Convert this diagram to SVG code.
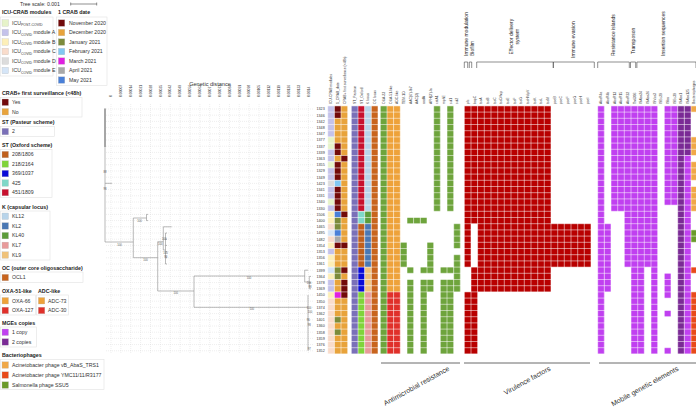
<svg xmlns="http://www.w3.org/2000/svg" width="696" height="408" viewBox="0 0 696 408">
<style>
text{font-family:"Liberation Sans",Arial,sans-serif;fill:#333}
.lg{font-size:5.2px}
.lh{font-size:5.3px;font-weight:bold;fill:#222}
.rl{font-size:3.7px}
.ch{font-size:3.4px}
.tk{font-size:3.4px}
.bs{font-size:2.7px;fill:#555;text-anchor:middle}
.grp{font-size:5px;fill:#222}
.big{font-size:7px;fill:#333}
.box{fill:none;stroke:#e2e2e2;stroke-width:0.6}
.sw{stroke:#bbb;stroke-width:0.3}
.tree{fill:none;stroke:#8c8c8c;stroke-width:0.6}
.grid{fill:none;stroke:#d4d4d4;stroke-width:0.4;stroke-dasharray:1 1}
.cellgrid{fill:none;stroke:#fff;stroke-width:0.7;stroke-opacity:0.75}
.br{fill:none;stroke:#444;stroke-width:0.6}
</style>

<g id="tree-scale">
<text x="20" y="6" style="font-size:5.2px">Tree scale: 0.001</text>
<path class="br" d="M70.7 4H96.7M70.7 2.5V5.5M96.7 2.5V5.5"/>
</g>

<g id="legend">
<g id="legend-icu">
<text class="lh" x="2" y="14">ICU-CRAB modules</text>
<rect class="box" x="0.5" y="17" width="52.5" height="59"/>
<rect class="sw" x="2" y="19.8" width="6.5" height="6.5" fill="#e6f3c9"/>
<text class="lg" x="12" y="24.8">ICU<tspan dy="1.2" style="font-size:3.5px">POST-COVID</tspan></text>
<rect class="sw" x="2" y="29.3" width="6.5" height="6.5" fill="#c4c2ea"/>
<text class="lg" x="12" y="34.3">ICU<tspan dy="1.2" style="font-size:3.5px">COVID</tspan><tspan dy="-1.2"> module A</tspan></text>
<rect class="sw" x="2" y="38.8" width="6.5" height="6.5" fill="#fdefb8"/>
<text class="lg" x="12" y="43.8">ICU<tspan dy="1.2" style="font-size:3.5px">COVID</tspan><tspan dy="-1.2"> module B</tspan></text>
<rect class="sw" x="2" y="48.3" width="6.5" height="6.5" fill="#f9dccb"/>
<text class="lg" x="12" y="53.3">ICU<tspan dy="1.2" style="font-size:3.5px">COVID</tspan><tspan dy="-1.2"> module C</tspan></text>
<rect class="sw" x="2" y="57.8" width="6.5" height="6.5" fill="#dcdcdc"/>
<text class="lg" x="12" y="62.8">ICU<tspan dy="1.2" style="font-size:3.5px">COVID</tspan><tspan dy="-1.2"> module D</tspan></text>
<rect class="sw" x="2" y="67.3" width="6.5" height="6.5" fill="#d5e5f7"/>
<text class="lg" x="12" y="72.3">ICU<tspan dy="1.2" style="font-size:3.5px">COVID</tspan><tspan dy="-1.2"> module E</tspan></text>
</g>
<g id="legend-date">
<text class="lh" x="58" y="14">1 CRAB date</text>
<rect class="box" x="56.5" y="17" width="50.5" height="68.5"/>
<rect class="sw" x="58.3" y="19.8" width="6.5" height="6.5" fill="#720a0a"/>
<text class="lg" x="69" y="24.8">November 2020</text>
<rect class="sw" x="58.3" y="29.3" width="6.5" height="6.5" fill="#e8a33b"/>
<text class="lg" x="69" y="34.3">December 2020</text>
<rect class="sw" x="58.3" y="38.8" width="6.5" height="6.5" fill="#7c8b3b"/>
<text class="lg" x="69" y="43.8">January 2021</text>
<rect class="sw" x="58.3" y="48.3" width="6.5" height="6.5" fill="#82c8f2"/>
<text class="lg" x="69" y="53.3">February 2021</text>
<rect class="sw" x="58.3" y="57.8" width="6.5" height="6.5" fill="#e020e0"/>
<text class="lg" x="69" y="62.8">March 2021</text>
<rect class="sw" x="58.3" y="67.3" width="6.5" height="6.5" fill="#a9a9a9"/>
<text class="lg" x="69" y="72.3">April 2021</text>
<rect class="sw" x="58.3" y="76.8" width="6.5" height="6.5" fill="#4a80d8"/>
<text class="lg" x="69" y="81.8">May 2021</text>
</g>
<g id="legend-crab">
<text class="lh" x="2" y="94.5">CRAB+ first surveillance (&lt;48h)</text>
<rect class="box" x="0.5" y="97.5" width="81.5" height="19.5"/>
<rect class="sw" x="2" y="99" width="6.5" height="6.5" fill="#720a0a"/>
<text class="lg" x="12" y="104">Yes</text>
<rect class="sw" x="2" y="108.5" width="6.5" height="6.5" fill="#e8a33b"/>
<text class="lg" x="12" y="113.5">No</text>
</g>
<g id="legend-stp">
<text class="lh" x="2" y="124">ST (Pasteur scheme)</text>
<rect class="box" x="0.5" y="126.5" width="54" height="10"/>
<rect class="sw" x="2" y="128.3" width="6.5" height="6.5" fill="#7a70b8"/>
<text class="lg" x="12" y="133.3">2</text>
</g>
<g id="legend-sto">
<text class="lh" x="2" y="147">ST (Oxford scheme)</text>
<rect class="box" x="0.5" y="149.5" width="51.5" height="48"/>
<rect class="sw" x="2" y="151.3" width="6.5" height="6.5" fill="#c0601c"/>
<text class="lg" x="12" y="156.3">208/1806</text>
<rect class="sw" x="2" y="160.8" width="6.5" height="6.5" fill="#80d43a"/>
<text class="lg" x="12" y="165.8">218/2164</text>
<rect class="sw" x="2" y="170.3" width="6.5" height="6.5" fill="#0a0ad8"/>
<text class="lg" x="12" y="175.3">369/1037</text>
<rect class="sw" x="2" y="179.8" width="6.5" height="6.5" fill="#7fd8c8"/>
<text class="lg" x="12" y="184.8">425</text>
<rect class="sw" x="2" y="189.3" width="6.5" height="6.5" fill="#c8102e"/>
<text class="lg" x="12" y="194.3">451/1809</text>
</g>
<g id="legend-k">
<text class="lh" x="2" y="208.5">K (capsular locus)</text>
<rect class="box" x="0.5" y="211" width="49.5" height="49"/>
<rect class="sw" x="2" y="213" width="6.5" height="6.5" fill="#b8d4ea"/>
<text class="lg" x="12" y="218">KL12</text>
<rect class="sw" x="2" y="222.7" width="6.5" height="6.5" fill="#4a78b4"/>
<text class="lg" x="12" y="227.7">KL2</text>
<rect class="sw" x="2" y="232.4" width="6.5" height="6.5" fill="#5c9c3a"/>
<text class="lg" x="12" y="237.4">KL40</text>
<rect class="sw" x="2" y="242.1" width="6.5" height="6.5" fill="#e89a9a"/>
<text class="lg" x="12" y="247.1">KL7</text>
<rect class="sw" x="2" y="251.8" width="6.5" height="6.5" fill="#f0c27a"/>
<text class="lg" x="12" y="256.8">KL9</text>
</g>
<g id="legend-oc">
<text class="lh" x="2" y="269.5">OC (outer core oligosaccharide)</text>
<rect class="box" x="0.5" y="272" width="82.5" height="10.5"/>
<rect class="sw" x="2" y="274.3" width="6.5" height="6.5" fill="#c8641e"/>
<text class="lg" x="12" y="279.3">OCL1</text>
</g>
<g id="legend-oxa">
<text class="lh" x="2" y="292.5">OXA-51-like</text>
<rect class="box" x="0.5" y="295" width="35" height="20"/>
<rect class="sw" x="2" y="297.5" width="6.5" height="6.5" fill="#eea23a"/>
<text class="lg" x="12" y="302.5">OXA-66</text>
<rect class="sw" x="2" y="307.2" width="6.5" height="6.5" fill="#e0302a"/>
<text class="lg" x="12" y="312.2">OXA-127</text>
</g>
<g id="legend-adc">
<text class="lh" x="38" y="292.5">ADC-like</text>
<rect class="box" x="36.5" y="295" width="32" height="20"/>
<rect class="sw" x="38.3" y="297.5" width="6.5" height="6.5" fill="#eea23a"/>
<text class="lg" x="48" y="302.5">ADC-73</text>
<rect class="sw" x="38.3" y="307.2" width="6.5" height="6.5" fill="#e0302a"/>
<text class="lg" x="48" y="312.2">ADC-30</text>
</g>
<g id="legend-mge">
<text class="lh" x="2" y="324.5">MGEs copies</text>
<rect class="box" x="0.5" y="327" width="36" height="20"/>
<rect class="sw" x="2" y="329" width="6.5" height="6.5" fill="#c040f0"/>
<text class="lg" x="12" y="334">1 copy</text>
<rect class="sw" x="2" y="338.7" width="6.5" height="6.5" fill="#7a2a95"/>
<text class="lg" x="12" y="343.7">2 copies</text>
</g>
<g id="legend-phage">
<text class="lh" x="2" y="357">Bacteriophages</text>
<rect class="box" x="0.5" y="359.5" width="103.5" height="30"/>
<rect class="sw" x="2" y="361.8" width="6.5" height="6.5" fill="#f0a848"/>
<text class="lg" x="12" y="366.8">Acinetobacter phage vB_AbaS_TRS1</text>
<rect class="sw" x="2" y="371.8" width="6.5" height="6.5" fill="#e84a1a"/>
<text class="lg" x="12" y="376.8">Acinetobacter phage YMC11/11/R3177</text>
<rect class="sw" x="2" y="381.8" width="6.5" height="6.5" fill="#6a9a2a"/>
<text class="lg" x="12" y="386.8">Salmonella phage SSU5</text>
</g>
</g>

<g id="axis">
<text x="210" y="85.5" style="font-size:5.6px;text-anchor:middle">Genetic distance</text>
<path class="grid" d="M111 104V353M120.87 104V353M130.74 104V353M140.61 104V353M150.48 104V353M160.35 104V353M170.22 104V353M180.09 104V353M189.96 104V353M199.83 104V353M209.7 104V353M219.57 104V353M229.44 104V353M239.31 104V353M249.18 104V353M259.05 104V353M268.92 104V353M278.79 104V353M288.66 104V353M298.53 104V353M308.4 104V353"/>
<g class="tk">
<text transform="translate(112.2 97) rotate(-90)">0</text>
<text transform="translate(122.1 97) rotate(-90)">0.00007</text>
<text transform="translate(132 97) rotate(-90)">0.00014</text>
<text transform="translate(141.8 97) rotate(-90)">0.00021</text>
<text transform="translate(151.7 97) rotate(-90)">0.00028</text>
<text transform="translate(161.6 97) rotate(-90)">0.00035</text>
<text transform="translate(171.4 97) rotate(-90)">0.00042</text>
<text transform="translate(181.3 97) rotate(-90)">0.00049</text>
<text transform="translate(191.2 97) rotate(-90)">0.00056</text>
<text transform="translate(201 97) rotate(-90)">0.00063</text>
<text transform="translate(210.9 97) rotate(-90)">0.0007</text>
<text transform="translate(220.8 97) rotate(-90)">0.00077</text>
<text transform="translate(230.6 97) rotate(-90)">0.00084</text>
<text transform="translate(240.5 97) rotate(-90)">0.00091</text>
<text transform="translate(250.4 97) rotate(-90)">0.00098</text>
<text transform="translate(260.3 97) rotate(-90)">0.00105</text>
<text transform="translate(270.1 97) rotate(-90)">0.00112</text>
<text transform="translate(280 97) rotate(-90)">0.00119</text>
<text transform="translate(289.9 97) rotate(-90)">0.00126</text>
<text transform="translate(299.7 97) rotate(-90)">0.00133</text>
<text transform="translate(309.6 97) rotate(-90)">0.0014</text>
</g>
</g>

<g id="connectors">
<path class="grid" d="M106 109H314M106 115.2H314M106 121.4H314M106 127.6H314M106 133.8H314M106 140H314M106 146.2H314M106 152.4H314M106 158.6H314M106 164.8H314M106 171H314M106 177.2H314M106 183.4H314M106 189.6H314M106 195.8H314M106 202H314M106 208.2H314M106 214.4H314M106 220.6H314M106 226.8H314M106 233H314M106 239.2H314M106 245.4H314M106 251.6H314M106 257.8H314M106 264H314M106 270.2H314M106 276.4H314M106 282.6H314M106 288.8H314M106 295H314M106 301.2H314M106 307.4H314M106 313.6H314M106 319.8H314M106 326H314M106 332.2H314M106 338.4H314M106 344.6H314M106 350.8H314"/>
<path class="tree" d="M105 108.5V242M105 242H133.3M133.3 218V257.7M133.3 218H146.5M146.5 214.4V220.6M146.5 214.4H148M146.5 220.6H148M133.3 257.7H157.7M157.7 241.7V291M157.7 241.7H163.3M163.3 226.8V250M163.3 226.8H171.7M163.3 250H165.5M165.5 233V264M165.5 233H167M165.5 239.2H167M165.5 245.4H167M165.5 251.6H167M165.5 257.8H167M165.5 264H167M157.7 291H194M194 276V307.3M194 276H304.7M304.7 270.2V282M304.7 270.2H308M304.7 282H309.3M309.3 276.4V288.8M309.3 276.4H311M309.3 282.6H311M309.3 288.8H311M194 307.3H308M308 295V350.8M105 183.3H112"/>
<path d="M105 108.5V147" stroke="#555" stroke-width="0.8"/>
</g>

<g id="bootstrap">
<text class="bs" x="105" y="172.5">88</text>
<text class="bs" x="105" y="189.5">98</text>
<text class="bs" x="119.5" y="245.5">100</text>
<text class="bs" x="139.5" y="221.5">100</text>
<text class="bs" x="145.5" y="260.5">100</text>
<text class="bs" x="164.3" y="239.5">100</text>
<text class="bs" x="160.3" y="244.5">100</text>
<text class="bs" x="165.5" y="254">100</text>
<text class="bs" x="165.7" y="258">98</text>
<text class="bs" x="175.7" y="294">100</text>
<text class="bs" x="249" y="278.5">100</text>
<text class="bs" x="309" y="284">100</text>
<text class="bs" x="310" y="288">98</text>
<text class="bs" x="251.7" y="310">100</text>
<text class="bs" x="309" y="309">100</text>
<text class="bs" x="310" y="313">100</text>
<text class="bs" x="308.3" y="320.5">96</text>
<text class="bs" x="309.3" y="325.5">98</text>
<text class="bs" x="309.3" y="350">97</text>
</g>

<g id="row-labels" class="rl">
<text x="316.5" y="110.3">1323</text><text x="316.5" y="116.5">1346</text><text x="316.5" y="122.7">1342</text><text x="316.5" y="128.9">1348</text><text x="316.5" y="135.1">1347</text><text x="316.5" y="141.3">1377</text><text x="316.5" y="147.5">1337</text><text x="316.5" y="153.7">1339</text><text x="316.5" y="159.9">1363</text><text x="316.5" y="166.1">1355</text><text x="316.5" y="172.3">1329</text><text x="316.5" y="178.5">1349</text><text x="316.5" y="184.7">1423</text><text x="316.5" y="190.9">1341</text><text x="316.5" y="197.1">1331</text><text x="316.5" y="203.3">1340</text><text x="316.5" y="209.5">1330</text><text x="316.5" y="215.7">1506</text><text x="316.5" y="221.9">1400</text><text x="316.5" y="228.1">1465</text><text x="316.5" y="234.3">1495</text><text x="316.5" y="240.5">1482</text><text x="316.5" y="246.7">1354</text><text x="316.5" y="252.9">1353</text><text x="316.5" y="259.1">1356</text><text x="316.5" y="265.3">1361</text><text x="316.5" y="271.5">1399</text><text x="316.5" y="277.7">1364</text><text x="316.5" y="283.9">1378</text><text x="316.5" y="290.1">1369</text><text x="316.5" y="296.3">1450</text><text x="316.5" y="302.5">1350</text><text x="316.5" y="308.7">1374</text><text x="316.5" y="314.9">1362</text><text x="316.5" y="321.1">1401</text><text x="316.5" y="327.3">1360</text><text x="316.5" y="333.5">1358</text><text x="316.5" y="339.7">1359</text><text x="316.5" y="345.9">1376</text><text x="316.5" y="352.1">1352</text>
</g>

<g id="col-headers" class="ch">
<text transform="translate(332.3 104) rotate(-90)">ICU-CRAB modules</text>
<text transform="translate(339 104) rotate(-90)">1_CRAB_date</text>
<text transform="translate(345.6 104) rotate(-90)">CRAB+ first surveillance (&lt;48h)</text>
<text transform="translate(355.9 104) rotate(-90)">ST_Pasteur</text>
<text transform="translate(362.6 104) rotate(-90)">ST_Oxford</text>
<text transform="translate(369.3 104) rotate(-90)">K locus</text>
<text transform="translate(375.9 104) rotate(-90)">OC locus</text>
<text transform="translate(384.9 104) rotate(-90)">OXA-23</text>
<text transform="translate(391.6 104) rotate(-90)">OXA-51-like</text>
<text transform="translate(398.2 104) rotate(-90)">ADC-like</text>
<text transform="translate(404.9 104) rotate(-90)">TEM-1D</text>
<text transform="translate(411.6 104) rotate(-90)">AAC(6')-Ib7</text>
<text transform="translate(418.2 104) rotate(-90)">AAC(3)</text>
<text transform="translate(424.9 104) rotate(-90)">aadA</text>
<text transform="translate(431.6 104) rotate(-90)">APH(3')-Ia</text>
<text transform="translate(438.3 104) rotate(-90)">catA1</text>
<text transform="translate(444.9 104) rotate(-90)">mphE</text>
<text transform="translate(451.6 104) rotate(-90)">sul1</text>
<text transform="translate(458.3 104) rotate(-90)">sul2</text>
<text transform="translate(468.9 104) rotate(-90)">plc</text>
<text transform="translate(475.6 104) rotate(-90)">bapC</text>
<text transform="translate(482.2 104) rotate(-90)">tssA</text>
<text transform="translate(488.9 104) rotate(-90)">tssB</text>
<text transform="translate(495.6 104) rotate(-90)">tssC</text>
<text transform="translate(502.3 104) rotate(-90)">tssD/hcp</text>
<text transform="translate(508.9 104) rotate(-90)">tssE</text>
<text transform="translate(515.6 104) rotate(-90)">tssF</text>
<text transform="translate(522.3 104) rotate(-90)">tssG</text>
<text transform="translate(528.9 104) rotate(-90)">tssH/clpV</text>
<text transform="translate(535.6 104) rotate(-90)">tssK</text>
<text transform="translate(542.3 104) rotate(-90)">tssL</text>
<text transform="translate(548.9 104) rotate(-90)">tssM</text>
<text transform="translate(555.6 104) rotate(-90)">pseB</text>
<text transform="translate(562.3 104) rotate(-90)">pseC</text>
<text transform="translate(568.9 104) rotate(-90)">pseF</text>
<text transform="translate(575.6 104) rotate(-90)">pseG</text>
<text transform="translate(582.3 104) rotate(-90)">pseH</text>
<text transform="translate(588.9 104) rotate(-90)">pseI</text>
<text transform="translate(602.3 104) rotate(-90)">AbaR4a</text>
<text transform="translate(608.9 104) rotate(-90)">AbaR4b</text>
<text transform="translate(615.6 104) rotate(-90)">AbaR13</text>
<text transform="translate(622.3 104) rotate(-90)">AbaR15</text>
<text transform="translate(628.9 104) rotate(-90)">AbaR22</text>
<text transform="translate(635.6 104) rotate(-90)">Tn6306</text>
<text transform="translate(642.3 104) rotate(-90)">ISAba24</text>
<text transform="translate(648.9 104) rotate(-90)">ISAba26</text>
<text transform="translate(655.6 104) rotate(-90)">ISVsa3</text>
<text transform="translate(662.3 104) rotate(-90)">ISEc29</text>
<text transform="translate(668.9 104) rotate(-90)">ISba</text>
<text transform="translate(675.6 104) rotate(-90)">ISEc39</text>
<text transform="translate(682.3 104) rotate(-90)">ISAba1</text>
<text transform="translate(688.9 104) rotate(-90)">ISAba125</text>
<text transform="translate(695.2 104) rotate(-90)">Bacteriophages</text>
</g>

<g id="groups-top">
<path class="br" d="M464.3 68V62H467.7V68M469.3 68V62H471.7V68M476.7 68V62H553.3V68M553.3 68V62H594.3V68M597.7 68V62H629.3V68M630.5 68V62H635.7V68M636.9 68V62H696V68"/>
<text class="grp" transform="translate(467.5 56) rotate(-90)">Immune modulation</text>
<text class="grp" transform="translate(473.8 56) rotate(-90)">Biofilm</text>
<text class="grp" transform="translate(513.3 36.7) rotate(-90)" style="text-anchor:middle">Effector delivery</text>
<text class="grp" transform="translate(519.3 36.7) rotate(-90)" style="text-anchor:middle">system</text>
<text class="grp" transform="translate(575 58) rotate(-90)">Immune evasion</text>
<text class="grp" transform="translate(615 56) rotate(-90)">Resistance islands</text>
<text class="grp" transform="translate(635 54) rotate(-90)">Transposon</text>
<text class="grp" transform="translate(665 56) rotate(-90)">Insertion sequences</text>
</g>

<g id="heatmap">
<g id="col-icu">
<rect x="327.7" y="105.9" width="6.7" height="31" fill="#c4c2ea"/>
<rect x="327.7" y="136.9" width="6.7" height="12.4" fill="#e6f3c9"/>
<rect x="327.7" y="149.3" width="6.7" height="12.4" fill="#c4c2ea"/>
<rect x="327.7" y="161.7" width="6.7" height="6.2" fill="#e6f3c9"/>
<rect x="327.7" y="167.9" width="6.7" height="12.4" fill="#c4c2ea"/>
<rect x="327.7" y="180.3" width="6.7" height="6.2" fill="#dcdcdc"/>
<rect x="327.7" y="186.5" width="6.7" height="12.4" fill="#c4c2ea"/>
<rect x="327.7" y="198.9" width="6.7" height="6.2" fill="#e6f3c9"/>
<rect x="327.7" y="205.1" width="6.7" height="6.2" fill="#c4c2ea"/>
<rect x="327.7" y="211.3" width="6.7" height="12.4" fill="#fdefb8"/>
<rect x="327.7" y="223.7" width="6.7" height="6.2" fill="#f9dccb"/>
<rect x="327.7" y="229.9" width="6.7" height="6.2" fill="#d5e5f7"/>
<rect x="327.7" y="236.1" width="6.7" height="6.2" fill="#f9dccb"/>
<rect x="327.7" y="242.3" width="6.7" height="6.2" fill="#fdefb8"/>
<rect x="327.7" y="248.5" width="6.7" height="6.2" fill="#c4c2ea"/>
<rect x="327.7" y="254.7" width="6.7" height="12.4" fill="#fdefb8"/>
<rect x="327.7" y="267.1" width="6.7" height="6.2" fill="#d5e5f7"/>
<rect x="327.7" y="273.3" width="6.7" height="6.2" fill="#fdefb8"/>
<rect x="327.7" y="279.5" width="6.7" height="12.4" fill="#c4c2ea"/>
<rect x="327.7" y="291.9" width="6.7" height="6.2" fill="#fdefb8"/>
<rect x="327.7" y="298.1" width="6.7" height="55.8" fill="#f9dccb"/>
</g>
<g id="col-date">
<rect x="334.4" y="105.9" width="6.7" height="12.4" fill="#720a0a"/>
<rect x="334.4" y="118.3" width="6.7" height="24.8" fill="#e8a33b"/>
<rect x="334.4" y="143.1" width="6.7" height="12.4" fill="#720a0a"/>
<rect x="334.4" y="155.5" width="6.7" height="6.2" fill="#e8a33b"/>
<rect x="334.4" y="161.7" width="6.7" height="18.6" fill="#720a0a"/>
<rect x="334.4" y="180.3" width="6.7" height="6.2" fill="#82c8f2"/>
<rect x="334.4" y="186.5" width="6.7" height="24.8" fill="#720a0a"/>
<rect x="334.4" y="211.3" width="6.7" height="6.2" fill="#4a80d8"/>
<rect x="334.4" y="217.5" width="6.7" height="12.4" fill="#7c8b3b"/>
<rect x="334.4" y="229.9" width="6.7" height="6.2" fill="#4a80d8"/>
<rect x="334.4" y="236.1" width="6.7" height="6.2" fill="#a9a9a9"/>
<rect x="334.4" y="242.3" width="6.7" height="6.2" fill="#720a0a"/>
<rect x="334.4" y="248.5" width="6.7" height="18.6" fill="#e8a33b"/>
<rect x="334.4" y="267.1" width="6.7" height="12.4" fill="#7c8b3b"/>
<rect x="334.4" y="279.5" width="6.7" height="12.4" fill="#e8a33b"/>
<rect x="334.4" y="291.9" width="6.7" height="6.2" fill="#e020e0"/>
<rect x="334.4" y="298.1" width="6.7" height="18.6" fill="#e8a33b"/>
<rect x="334.4" y="316.7" width="6.7" height="6.2" fill="#7c8b3b"/>
<rect x="334.4" y="322.9" width="6.7" height="6.2" fill="#e8a33b"/>
<rect x="334.4" y="329.1" width="6.7" height="6.2" fill="#7c8b3b"/>
<rect x="334.4" y="335.3" width="6.7" height="18.6" fill="#e8a33b"/>
</g>
<g id="col-crab">
<rect x="341" y="105.9" width="6.7" height="248" fill="#e8a33b"/>
<rect x="341" y="155.5" width="6.7" height="6.2" fill="#720a0a"/>
<rect x="341" y="211.3" width="6.7" height="6.2" fill="#720a0a"/>
<rect x="341" y="242.3" width="6.7" height="6.2" fill="#720a0a"/>
<rect x="341" y="267.1" width="6.7" height="6.2" fill="#720a0a"/>
<rect x="341" y="279.5" width="6.7" height="18.6" fill="#720a0a"/>
</g>
<g id="col-st">
<rect x="351.3" y="105.9" width="6.7" height="248" fill="#7a70b8"/>
<rect x="358" y="105.9" width="6.7" height="105.4" fill="#c8102e"/>
<rect x="358" y="211.3" width="6.7" height="12.4" fill="#7fd8c8"/>
<rect x="358" y="223.7" width="6.7" height="43.4" fill="#c0601c"/>
<rect x="358" y="267.1" width="6.7" height="24.8" fill="#0a0ad8"/>
<rect x="358" y="291.9" width="6.7" height="62" fill="#80d43a"/>
<rect x="364.7" y="105.9" width="6.7" height="105.4" fill="#b8d4ea"/>
<rect x="364.7" y="211.3" width="6.7" height="12.4" fill="#5c9c3a"/>
<rect x="364.7" y="223.7" width="6.7" height="43.4" fill="#4a78b4"/>
<rect x="364.7" y="267.1" width="6.7" height="24.8" fill="#f0c27a"/>
<rect x="364.7" y="291.9" width="6.7" height="62" fill="#e89a9a"/>
<rect x="371.3" y="105.9" width="6.7" height="248" fill="#c8641e"/>
</g>
<g id="col-amr" fill="#6ea43c">
<rect x="380.3" y="105.9" width="6.7" height="248"/>
<rect x="387" y="105.9" width="6.7" height="186" fill="#eea23a"/>
<rect x="387" y="291.9" width="6.7" height="62" fill="#e0302a"/>
<rect x="393.6" y="105.9" width="6.7" height="186" fill="#eea23a"/>
<rect x="393.6" y="291.9" width="6.7" height="62" fill="#e0302a"/>
<rect x="400.3" y="242.3" width="6.7" height="24.8"/>
<rect x="407" y="217.5" width="6.7" height="6.2"/>
<rect x="407" y="267.1" width="6.7" height="6.2"/>
<rect x="407" y="279.5" width="6.7" height="74.4"/>
<rect x="413.6" y="217.5" width="6.7" height="6.2"/>
<rect x="420.3" y="217.5" width="6.7" height="6.2"/>
<rect x="420.3" y="267.1" width="6.7" height="6.2"/>
<rect x="420.3" y="279.5" width="6.7" height="74.4"/>
<rect x="427" y="242.3" width="6.7" height="31"/>
<rect x="427" y="279.5" width="6.7" height="12.4"/>
<rect x="433.7" y="105.9" width="6.7" height="105.4"/>
<rect x="440.3" y="267.1" width="6.7" height="6.2"/>
<rect x="440.3" y="279.5" width="6.7" height="74.4"/>
<rect x="447" y="105.9" width="6.7" height="105.4"/>
<rect x="447" y="267.1" width="6.7" height="6.2"/>
<rect x="447" y="279.5" width="6.7" height="74.4"/>
<rect x="453.7" y="223.7" width="6.7" height="24.8"/>
<rect x="453.7" y="254.7" width="6.7" height="37.2"/>
</g>
<g id="col-vir" fill="#b80000">
<rect x="464.3" y="105.9" width="6.7" height="161.2"/>
<rect x="464.3" y="291.9" width="6.7" height="62"/>
<rect x="471" y="105.9" width="6.7" height="117.8"/>
<rect x="471" y="267.1" width="6.7" height="86.8"/>
<rect x="477.6" y="105.9" width="73.4" height="186"/>
<rect x="551" y="223.7" width="40" height="43.4"/>
</g>
<g id="col-mge" fill="#c040f0">
<rect x="597.7" y="105.9" width="6.7" height="248"/>
<rect x="604.3" y="223.7" width="6.7" height="68.2"/>
<rect x="611" y="105.9" width="20" height="105.4"/>
<rect x="624.3" y="105.9" width="26.7" height="161.2"/>
<rect x="631" y="267.1" width="13.3" height="86.8"/>
<rect x="651" y="105.9" width="6.7" height="248"/>
<rect x="664.3" y="105.9" width="13.4" height="99.2"/>
<rect x="664.3" y="273.3" width="6.7" height="24.8"/>
<rect x="664.3" y="310.5" width="6.7" height="6.2"/>
<rect x="664.3" y="347.7" width="6.7" height="6.2"/>
<rect x="677.7" y="105.9" width="6.7" height="248" fill="#7a2a95"/>
<rect x="684.3" y="105.9" width="6.7" height="49.6" fill="#7a2a95"/>
<rect x="684.3" y="155.5" width="6.7" height="198.4"/>
<rect x="691" y="105.9" width="6.7" height="6.2" fill="#f0a848"/>
<rect x="691" y="136.9" width="6.7" height="18.6" fill="#f0a848"/>
<rect x="691" y="161.7" width="6.7" height="18.6" fill="#f0a848"/>
<rect x="691" y="186.5" width="6.7" height="24.8" fill="#f0a848"/>
<rect x="691" y="229.9" width="6.7" height="12.4" fill="#6a9a2a"/>
<rect x="691" y="267.1" width="6.7" height="6.2" fill="#e84a1a"/>
<rect x="691" y="291.9" width="6.7" height="62" fill="#e84a1a"/>
</g>
<path class="cellgrid" d="M327 105.9H697M327 112.1H697M327 118.3H697M327 124.5H697M327 130.7H697M327 136.9H697M327 143.1H697M327 149.3H697M327 155.5H697M327 161.7H697M327 167.9H697M327 174.1H697M327 180.3H697M327 186.5H697M327 192.7H697M327 198.9H697M327 205.1H697M327 211.3H697M327 217.5H697M327 223.7H697M327 229.9H697M327 236.1H697M327 242.3H697M327 248.5H697M327 254.7H697M327 260.9H697M327 267.1H697M327 273.3H697M327 279.5H697M327 285.7H697M327 291.9H697M327 298.1H697M327 304.3H697M327 310.5H697M327 316.7H697M327 322.9H697M327 329.1H697M327 335.3H697M327 341.5H697M327 347.7H697M327 353.9H697M327.7 105.9V353.9M334.4 105.9V353.9M341 105.9V353.9M347.7 105.9V353.9M351.3 105.9V353.9M358 105.9V353.9M364.7 105.9V353.9M371.3 105.9V353.9M378 105.9V353.9M380.3 105.9V353.9M387 105.9V353.9M393.6 105.9V353.9M400.3 105.9V353.9M407 105.9V353.9M413.6 105.9V353.9M420.3 105.9V353.9M427 105.9V353.9M433.7 105.9V353.9M440.3 105.9V353.9M447 105.9V353.9M453.7 105.9V353.9M460.3 105.9V353.9M464.3 105.9V353.9M471 105.9V353.9M477.6 105.9V353.9M484.3 105.9V353.9M491 105.9V353.9M497.7 105.9V353.9M504.3 105.9V353.9M511 105.9V353.9M517.7 105.9V353.9M524.3 105.9V353.9M531 105.9V353.9M537.7 105.9V353.9M544.3 105.9V353.9M551 105.9V353.9M557.7 105.9V353.9M564.3 105.9V353.9M571 105.9V353.9M577.7 105.9V353.9M584.3 105.9V353.9M591 105.9V353.9M597.7 105.9V353.9M604.3 105.9V353.9M611 105.9V353.9M617.7 105.9V353.9M624.3 105.9V353.9M631 105.9V353.9M637.7 105.9V353.9M644.3 105.9V353.9M651 105.9V353.9M657.7 105.9V353.9M664.3 105.9V353.9M671 105.9V353.9M677.7 105.9V353.9M684.3 105.9V353.9M691 105.9V353.9M697.7 105.9V353.9"/>
</g>

<g id="groups-bottom">
<path d="M381 363H460M464 363H590M599 363H696" stroke="#444" stroke-width="0.8" fill="none"/>
<text class="big" transform="translate(450 370) rotate(-29)" style="text-anchor:end">Antimicrobial resistance</text>
<text class="big" transform="translate(551 370) rotate(-29)" style="text-anchor:end">Virulence factors</text>
<text class="big" transform="translate(679 370) rotate(-29)" style="text-anchor:end">Mobile genetic elements</text>
</g>
</svg>
